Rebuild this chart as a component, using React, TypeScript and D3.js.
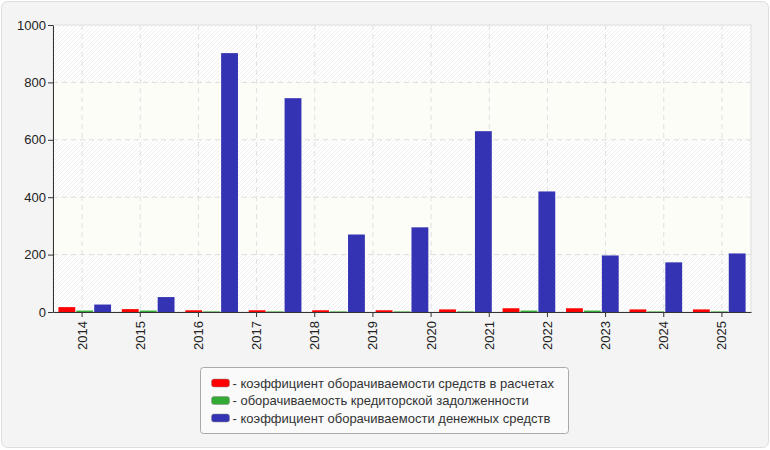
import { useEffect, useRef } from 'react'
import * as d3 from 'd3'

const years = ['2014', '2015', '2016', '2017', '2018', '2019', '2020', '2021', '2022', '2023', '2024', '2025']
const receivables = [17, 10, 6, 6, 6, 6, 9, 13, 13, 9, 9]
const payables = [5, 5, 2, 2, 2, 2, 2, 5, 5, 2, 2]
const cash = [26, 52, 902, 745, 270, 295, 630, 420, 197, 173, 204]
const yTicks = [0, 200, 400, 600, 800, 1000]
const seriesNames = [
  'коэффициент оборачиваемости средств в расчетах',
  'оборачиваемость кредиторской задолженности',
  'коэффициент оборачиваемости денежных средств',
]
const colors = ['#ff0000', '#33aa33', '#3333b3']
const font = 'Arial, "Liberation Sans", sans-serif'

export default function App() {
  const ref = useRef<SVGSVGElement>(null)

  useEffect(() => {
    document.body.style.margin = '0'
    if (!ref.current) return
    const width = 770
    const height = 450
    const margin = { top: 25, right: 19, bottom: 138, left: 53 }
    const chartWidth = width - margin.left - margin.right
    const chartHeight = height - margin.top - margin.bottom

    const root = d3.select(ref.current)
    root.selectAll('*').remove()

    const defs = root.append('defs')
    const pattern = defs.append('pattern')
      .attr('id', 'hatch')
      .attr('patternUnits', 'userSpaceOnUse')
      .attr('width', 4)
      .attr('height', 4)
    pattern.append('rect').attr('width', 4).attr('height', 4).attr('fill', '#ffffff')
    pattern.append('path')
      .attr('d', 'M-1,1 l2,-2 M0,4 l4,-4 M3,5 l2,-2')
      .attr('stroke', '#efefef')
      .attr('stroke-width', 1)

    root.append('rect')
      .attr('x', 1.5).attr('y', 1.5)
      .attr('width', width - 3).attr('height', height - 4)
      .attr('rx', 6)
      .attr('fill', '#f4f4f4')
      .attr('stroke', '#dddddd')

    const svg = root.append('g').attr('transform', `translate(${margin.left}, ${margin.top})`)

    const yScale = d3.scaleLinear().domain([0, 1000]).range([chartHeight, 0])
    const xLabels = d3.scaleBand().domain(years).range([0, chartWidth])
    const groups = d3.scaleBand<number>()
      .domain(cash.map((_, i) => i))
      .range([0, chartWidth])
      .paddingInner(0.17)
      .paddingOuter(0.085)
    const inner = d3.scaleBand<number>().domain([0, 1, 2]).range([0, groups.bandwidth()]).paddingInner(0.06)

    // alternating background bands
    d3.pairs(yTicks).forEach(([a, b], i) => {
      svg.append('rect')
        .attr('x', 0)
        .attr('y', yScale(b))
        .attr('width', chartWidth)
        .attr('height', yScale(a) - yScale(b))
        .attr('fill', i % 2 === 0 ? 'url(#hatch)' : '#fcfdf6')
    })

    svg.append('rect')
      .attr('width', chartWidth)
      .attr('height', chartHeight)
      .attr('fill', 'none')
      .attr('stroke', '#dddddd')

    svg.append('g')
      .selectAll('line')
      .data(years)
      .join('line')
      .attr('x1', (d) => xLabels(d)! + xLabels.bandwidth() / 2)
      .attr('x2', (d) => xLabels(d)! + xLabels.bandwidth() / 2)
      .attr('y1', 0)
      .attr('y2', chartHeight)
      .attr('stroke', '#e0e0e0')
      .attr('stroke-dasharray', '5,4')

    svg.append('g')
      .selectAll('line')
      .data(yTicks.slice(1, -1))
      .join('line')
      .attr('x1', 0)
      .attr('x2', chartWidth)
      .attr('y1', (d) => yScale(d))
      .attr('y2', (d) => yScale(d))
      .attr('stroke', '#dddddd')
      .attr('stroke-dasharray', '5,4')

    const series = [receivables, payables, cash]
    series.forEach((values, s) => {
      svg.append('g')
        .selectAll('rect')
        .data(values)
        .join('rect')
        .attr('x', (_, i) => groups(i)! + inner(s)!)
        .attr('y', (d) => yScale(d))
        .attr('width', inner.bandwidth())
        .attr('height', (d) => chartHeight - yScale(d))
        .attr('fill', colors[s])
    })

    const yAxis = svg.append('g')
      .call(d3.axisLeft(yScale).tickValues(yTicks).tickFormat(d3.format('d')).tickSize(5).tickSizeOuter(0))
    yAxis.select('.domain').attr('stroke', '#333')
    yAxis.selectAll('.tick line').attr('stroke', '#333')
    yAxis.selectAll('text')
      .attr('x', -7)
      .style('font-family', font)
      .style('font-size', '13px')
      .style('fill', '#222')

    const xAxis = svg.append('g')
      .attr('transform', `translate(0, ${chartHeight})`)
      .call(d3.axisBottom(xLabels).tickSize(5).tickSizeOuter(0))
    xAxis.select('.domain').attr('stroke', '#333')
    xAxis.selectAll('.tick line').attr('stroke', '#333')
    xAxis.selectAll('text')
      .attr('transform', 'rotate(-90)')
      .attr('text-anchor', 'end')
      .attr('x', -9)
      .attr('y', 0)
      .attr('dy', '0.35em')
      .style('font-family', font)
      .style('font-size', '13px')
      .style('fill', '#222')

    const legend = root.append('g').attr('transform', 'translate(200.5, 367.5)')
    legend.append('rect')
      .attr('width', 368)
      .attr('height', 66)
      .attr('rx', 3)
      .attr('fill', '#fafafa')
      .attr('stroke', '#aaaaaa')
    seriesNames.forEach((name, i) => {
      const row = legend.append('g').attr('transform', `translate(11, ${15.5 + i * 17.5})`)
      row.append('rect')
        .attr('x', 0).attr('y', -4)
        .attr('width', 18).attr('height', 8)
        .attr('rx', 2.5)
        .attr('fill', colors[i])
        .attr('stroke', '#888')
        .attr('stroke-width', 0.5)
      row.append('text')
        .attr('x', 21)
        .attr('y', 0)
        .attr('dy', '0.35em')
        .style('font-family', font)
        .style('font-size', '13px')
        .style('fill', '#333')
        .text(`- ${name}`)
    })
  }, [])

  return <svg ref={ref} width={770} height={450} style={{ display: 'block' }} />
}
